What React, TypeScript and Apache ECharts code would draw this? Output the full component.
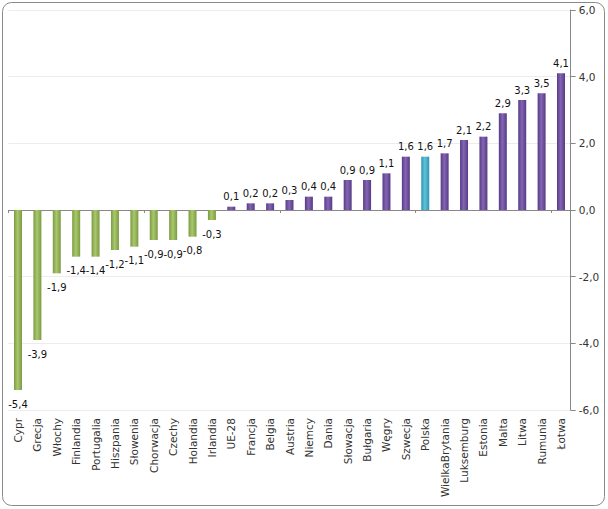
import React, { useEffect, useRef } from "react";
import * as echarts from "echarts";

const categories = [
  "Cypr", "Grecja", "Włochy", "Finlandia", "Portugalia", "Hiszpania", "Słowenia",
  "Chorwacja", "Czechy", "Holandia", "Irlandia", "UE-28", "Francja", "Belgia",
  "Austria", "Niemcy", "Dania", "Słowacja", "Bułgaria", "Węgry", "Szwecja",
  "Polska", "WielkaBrytania", "Luksemburg", "Estonia", "Malta", "Litwa", "Rumunia", "Łotwa",
];
const values = [
  -5.4, -3.9, -1.9, -1.4, -1.4, -1.2, -1.1, -0.9, -0.9, -0.8, -0.3, 0.1, 0.2, 0.2,
  0.3, 0.4, 0.4, 0.9, 0.9, 1.1, 1.6, 1.6, 1.7, 2.1, 2.2, 2.9, 3.3, 3.5, 4.1,
];
const highlighted = "Polska";

const FONT = "DejaVu Sans";
const fmt = (v: number) => v.toFixed(1).replace(".", ",");

const grad = (edge: string, mid: string) =>
  new echarts.graphic.LinearGradient(0, 0, 1, 0, [
    { offset: 0, color: edge },
    { offset: 0.45, color: mid },
    { offset: 1, color: edge },
  ]);

export default function App() {
  const ref = useRef<HTMLDivElement>(null);
  useEffect(() => {
    if (!ref.current) return;
    const chart = echarts.init(ref.current, undefined, { renderer: "svg" });
    const data = values.map((v, i) => {
      const cat = categories[i];
      const color =
        cat === highlighted
          ? grad("#2f96ae", "#5ec3dc")
          : v < 0
          ? grad("#7c9a43", "#a9c86c")
          : grad("#563c84", "#8465b4");
      return {
        value: v,
        itemStyle: { color },
        label: { position: v < 0 ? "bottom" : "top", distance: v < 0 ? 9 : 5 },
      };
    });
    chart.setOption({
      animation: false,
      backgroundColor: "#ffffff",
      textStyle: { fontFamily: FONT },
      graphic: [
        {
          type: "rect",
          shape: { x: 2.5, y: 2.5, width: 602, height: 503, r: 9 },
          style: { fill: "none", stroke: "#8a8a8a", lineWidth: 1 },
          z: 100,
        },
      ],
      grid: { left: 8.3, right: 37.3, top: 10, bottom: 99, containLabel: false },
      xAxis: [
        {
          type: "category",
          data: categories,
          axisLine: { show: true, onZero: true, lineStyle: { color: "#888888" } },
          axisTick: { show: true, length: 3, lineStyle: { color: "#888888" } },
          axisLabel: { show: false },
        },
        {
          type: "category",
          data: categories,
          position: "bottom",
          axisLine: { show: false, onZero: false },
          axisTick: { show: false },
          axisLabel: {
            show: true,
            rotate: 90,
            interval: 0,
            margin: 8,
            fontSize: 10.5,
            color: "#333333",
            fontFamily: FONT,
          },
        },
      ],
      yAxis: {
        type: "value",
        position: "right",
        min: -6,
        max: 6,
        interval: 2,
        axisLine: { show: true, lineStyle: { color: "#888888" } },
        axisTick: { show: true, length: 5, lineStyle: { color: "#888888" } },
        axisLabel: {
          formatter: (v: number) => fmt(v),
          fontSize: 10.5,
          color: "#333333",
          margin: 8,
          fontFamily: FONT,
        },
        splitLine: { show: true, lineStyle: { color: "#ececec" } },
      },
      series: [
        {
          type: "bar",
          xAxisIndex: 0,
          barWidth: 8,
          data,
          label: {
            show: true,
            formatter: (p: any) => fmt(p.value),
            fontSize: 10,
            color: "#111111",
            fontFamily: FONT,
          },
        },
      ],
    });
    return () => chart.dispose();
  }, []);
  return (
    <div
      ref={ref}
      style={{ position: "absolute", left: 0, top: 0, width: 608, height: 509 }}
    />
  );
}
